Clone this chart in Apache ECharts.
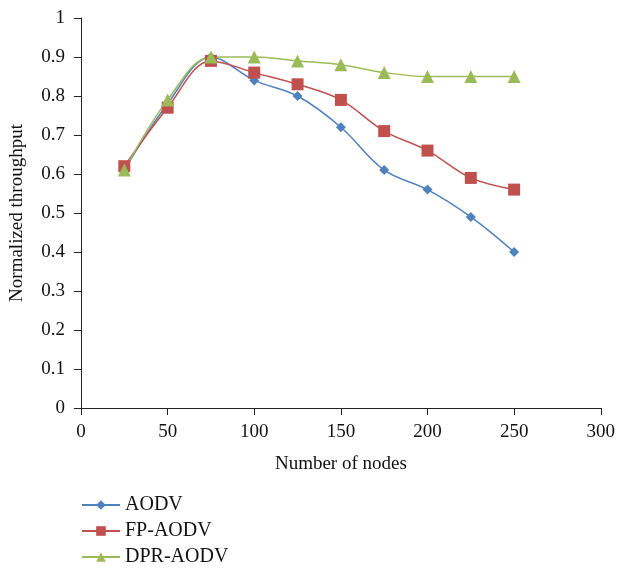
<!DOCTYPE html>
<html>
<head>
<meta charset="utf-8">
<script src="https://cdn.jsdelivr.net/npm/echarts@6/dist/echarts.min.js"></script>
<style>
html,body{margin:0;padding:0;background:#fff;}
#main{width:618px;height:572px;}
</style>
</head>
<body>
<div id="main"></div>
<script>
// data
var nodes = [25, 50, 75, 100, 125, 150, 175, 200, 225, 250];
var aodv = [0.61, 0.78, 0.90, 0.84, 0.80, 0.72, 0.61, 0.56, 0.49, 0.40];
var fpAodv = [0.62, 0.77, 0.89, 0.86, 0.83, 0.79, 0.71, 0.66, 0.59, 0.56];
var dprAodv = [0.61, 0.79, 0.90, 0.90, 0.89, 0.88, 0.86, 0.85, 0.85, 0.85];

function pairs(arr){
	var out = [];
	for(var i = 0; i < nodes.length; i++){ out.push([nodes[i], arr[i]]); }
	return out;
}

var font = 'Liberation Serif';
var myChart = echarts.init(document.getElementById('main'));

var option = {
	animation: false,
	textStyle: {fontFamily: font},
	grid: {left: 80, right: 16, top: 18, bottom: 164},
	legend: {
		orient: 'vertical',
		left: 81,
		top: 495,
		padding: 0,
		itemWidth: 38,
		itemHeight: 12,
		itemGap: 6,
		textStyle: {fontFamily: font, fontSize: 20, lineHeight: 20, color: '#111'},
		data: ['AODV', 'FP-AODV', 'DPR-AODV']
	},
	xAxis: {
		type: 'value',
		min: 0, max: 300, interval: 50,
		name: 'Number of nodes',
		nameLocation: 'middle',
		nameGap: 47,
		nameTextStyle: {fontFamily: font, fontSize: 19, color: '#111'},
		axisLine: {lineStyle: {color: '#222', width: 1}},
		axisTick: {show: true, length: 7, lineStyle: {color: '#222'}},
		axisLabel: {fontFamily: font, fontSize: 19, color: '#111', margin: 15},
		splitLine: {show: false}
	},
	yAxis: {
		type: 'value',
		min: 0, max: 1, interval: 0.1,
		name: 'Normalized throughput',
		nameLocation: 'middle',
		nameGap: 54,
		nameTextStyle: {fontFamily: font, fontSize: 19, color: '#111'},
		axisLine: {show: true, lineStyle: {color: '#222', width: 1}},
		axisTick: {show: true, length: 7, lineStyle: {color: '#222'}},
		axisLabel: {fontFamily: font, fontSize: 19, color: '#111', margin: 16,
			formatter: function(v){ return Math.round(v*10)/10 + ''; }},
		splitLine: {show: false}
	},
	series: [
		{
			name: 'AODV', type: 'line', smooth: 0.35,
			data: pairs(aodv),
			symbol: 'diamond', symbolSize: 10,
			lineStyle: {color: '#4F81BD', width: 1.5},
			itemStyle: {color: '#4F81BD'}
		},
		{
			name: 'FP-AODV', type: 'line', smooth: 0.35,
			data: pairs(fpAodv),
			symbol: 'rect', symbolSize: 12,
			lineStyle: {color: '#C0504D', width: 1.5},
			itemStyle: {color: '#C0504D'}
		},
		{
			name: 'DPR-AODV', type: 'line', smooth: 0.35,
			data: pairs(dprAodv),
			symbol: 'triangle', symbolSize: 13,
			lineStyle: {color: '#9BBB59', width: 1.5},
			itemStyle: {color: '#9BBB59'}
		}
	]
};

myChart.setOption(option);
</script>
</body>
</html>
